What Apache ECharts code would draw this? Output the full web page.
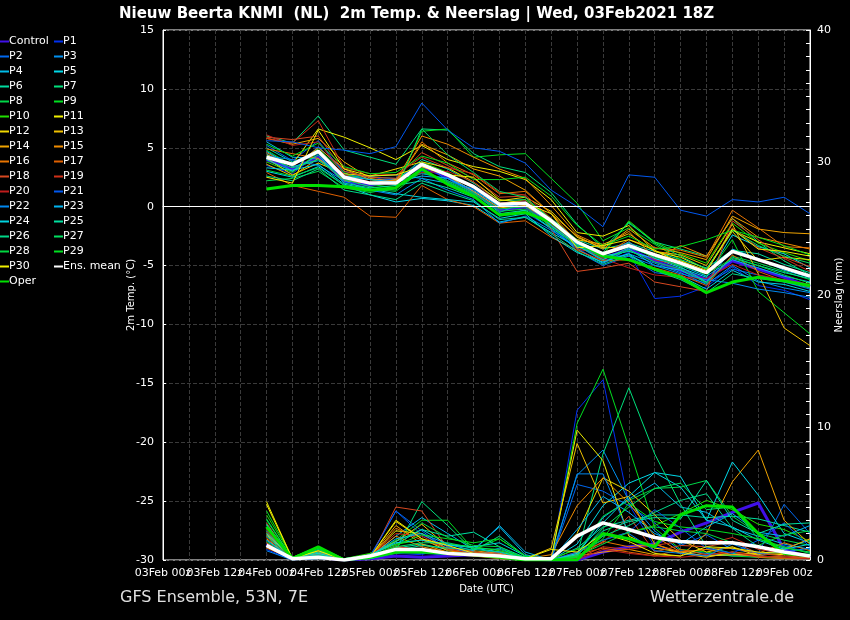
<!DOCTYPE html>
<html>
<head>
<meta charset="utf-8">
<script src="https://cdn.jsdelivr.net/npm/echarts@6/dist/echarts.min.js"></script>
<style>
  html, body { margin: 0; padding: 0; background: #000; }
  #chart { width: 850px; height: 620px; }
</style>
</head>
<body>
<div id="chart"></div>
<script>
const times = ["03Feb 00z", "03Feb 06z", "03Feb 12z", "03Feb 18z", "04Feb 00z", "04Feb 06z", "04Feb 12z", "04Feb 18z",
  "05Feb 00z", "05Feb 06z", "05Feb 12z", "05Feb 18z", "06Feb 00z", "06Feb 06z", "06Feb 12z", "06Feb 18z",
  "07Feb 00z", "07Feb 06z", "07Feb 12z", "07Feb 18z", "08Feb 00z", "08Feb 06z", "08Feb 12z", "08Feb 18z",
  "09Feb 00z", "09Feb 06z"];

// members in legend order; values start at 04Feb 00z
const memberNames = ["Control", "P1", "P2", "P3", "P4", "P5", "P6", "P7", "P8", "P9", "P10",
  "P11", "P12", "P13", "P14", "P15", "P16", "P17", "P18", "P19", "P20",
  "P21", "P22", "P23", "P24", "P25", "P26", "P27", "P28", "P29", "P30"];

const tempMembers = [
  [4.0,3.2,4.2,2.2,1.8,2.3,3.4,2.5,1.2,-0.3,0.0,-1.5,-3.2,-4.4,-3.6,-4.6,-5.4,-6.2,-4.6,-5.3,-6.0,-6.8],
  [3.5,2.8,4.5,2.0,2.6,2.0,3.0,2.1,1.0,-0.8,-0.5,-1.8,-3.5,-4.8,-3.9,-7.8,-7.6,-6.8,-5.1,-6.7,-7.1,-7.9],
  [5.2,3.9,5.6,2.8,2.3,2.3,3.8,2.2,1.5,0.0,0.2,-1.5,-3.8,-5.0,-4.2,-5.6,-5.9,-6.5,-5.3,-5.8,-6.4,-7.0],
  [4.5,3.0,5.1,3.0,2.5,2.4,2.8,2.4,1.2,-0.5,0.4,-1.6,-3.3,-4.6,-4.0,-4.8,-5.6,-6.6,-5.0,-6.3,-6.9,-7.3],
  [5.5,4.2,4.1,2.6,2.6,2.7,2.4,2.0,1.0,-0.8,-0.3,-1.9,-3.6,-4.8,-3.6,-5.0,-5.4,-6.4,-3.6,-4.4,-5.4,-6.0],
  [3.0,2.5,3.4,1.8,1.0,0.4,0.7,0.5,0.1,-1.3,-0.9,-2.2,-3.4,-4.2,-3.8,-4.4,-5.2,-6.0,-2.4,-3.4,-4.0,-5.2],
  [5.0,3.8,4.6,2.4,2.0,2.2,4.0,3.2,2.0,0.5,0.6,-1.0,-2.8,-3.6,-3.1,-3.8,-4.5,-5.2,-3.7,-4.0,-4.9,-5.6],
  [6.0,5.4,7.7,4.8,4.2,3.6,6.6,6.5,4.5,3.4,2.9,1.2,-1.5,-3.5,-1.4,-3.0,-3.6,-4.2,-1.0,-3.0,-4.6,-5.8],
  [2.2,2.4,3.0,1.6,1.2,1.6,2.9,2.2,1.2,-0.4,-0.2,-1.6,-3.1,-4.4,-3.7,-4.7,-5.3,-6.5,-4.2,-4.8,-5.5,-6.2],
  [4.8,3.5,4.9,2.9,1.9,1.6,6.4,6.6,4.2,4.4,4.5,2.4,0.3,-2.9,-1.8,-3.2,-4.5,-5.9,-2.8,-7.2,-9.0,-10.8],
  [3.8,2.9,4.6,2.7,2.3,1.9,3.8,2.9,1.6,0.2,0.6,-1.0,-3.1,-4.1,-1.2,-3.0,-4.0,-4.8,-1.4,-3.1,-3.9,-4.6],
  [4.4,3.6,6.6,5.9,5.0,4.0,5.2,4.0,3.4,3.0,2.3,0.6,-2.2,-2.5,-1.6,-3.8,-4.3,-5.3,-2.0,-3.0,-3.5,-4.0],
  [4.1,2.7,3.7,2.8,2.6,3.2,3.8,3.3,2.1,0.5,0.8,-0.4,-2.6,-3.5,-3.4,-4.0,-4.6,-5.4,-2.1,-4.6,-4.3,-4.5],
  [3.6,2.6,4.1,2.2,2.0,2.3,3.4,2.6,1.3,-0.1,0.1,-1.4,-2.8,-3.2,-2.3,-3.8,-4.1,-5.0,-1.5,-5.7,-10.3,-11.8],
  [5.8,5.3,5.8,3.8,2.4,2.1,5.3,4.4,3.2,2.6,1.4,-0.6,-2.5,-3.6,-1.9,-3.5,-3.9,-4.5,-0.8,-1.9,-2.2,-2.3],
  [4.6,3.4,5.0,3.2,2.3,2.2,6.0,5.3,4.2,3.2,2.4,0.1,-2.4,-3.4,-2.1,-4.4,-3.3,-4.2,-1.0,-2.6,-3.1,-3.6],
  [4.9,4.5,4.1,2.2,2.0,2.0,5.5,3.7,2.7,1.1,1.3,-0.6,-3.0,-4.1,-2.8,-3.5,-3.7,-4.3,-0.3,-1.8,-3.4,-3.5],
  [2.9,1.8,1.3,0.8,-0.8,-0.9,1.8,0.6,0.0,-1.4,-1.2,-2.6,-3.7,-4.6,-4.5,-5.2,-5.8,-6.7,-4.1,-5.5,-6.3,-6.8],
  [5.9,5.7,6.0,3.0,2.5,2.4,4.6,3.5,2.4,0.8,0.9,-1.9,-5.5,-5.2,-4.8,-6.4,-6.8,-7.2,-1.2,-2.8,-4.3,-5.1],
  [5.8,5.4,7.3,3.3,2.8,2.7,4.2,3.3,2.8,1.2,1.0,-1.0,-3.6,-4.0,-3.0,-4.5,-5.0,-5.5,-1.8,-3.5,-4.4,-5.5],
  [6.1,5.2,5.5,2.7,2.1,2.0,2.9,3.0,2.1,0.3,0.5,-1.5,-3.3,-4.4,-5.2,-5.8,-6.0,-6.1,-4.9,-5.8,-6.2,-6.6],
  [5.6,5.5,5.0,4.8,4.5,5.1,8.8,6.5,5.0,4.7,3.7,1.4,0.0,-1.7,2.7,2.5,-0.3,-0.8,0.6,0.4,0.8,-0.6],
  [4.3,4.0,3.5,2.2,1.4,1.0,2.4,1.4,0.6,-1.4,-0.8,-2.0,-3.4,-4.2,-4.2,-5.0,-5.7,-6.2,-6.5,-7.0,-7.3,-7.7],
  [4.7,3.4,3.9,2.6,2.3,2.1,2.6,2.4,1.4,0.0,0.3,-1.6,-3.2,-4.1,-3.0,-4.4,-5.0,-5.9,-4.5,-5.2,-5.9,-6.4],
  [3.3,3.1,3.6,1.9,1.5,1.1,0.8,0.6,0.4,-1.0,-0.6,-2.5,-3.9,-4.7,-4.0,-5.4,-5.9,-7.0,-5.4,-6.4,-6.6,-7.2],
  [4.0,3.0,4.4,2.0,1.6,1.8,2.2,1.6,0.8,-0.6,-0.3,-1.8,-3.3,-4.5,-3.5,-4.2,-5.1,-6.4,-4.3,-5.0,-5.6,-6.1],
  [2.6,2.2,3.2,1.4,1.0,0.6,2.0,1.2,0.5,-1.1,-0.9,-2.3,-3.8,-4.9,-4.1,-5.4,-6.2,-7.3,-5.7,-6.1,-6.4,-6.9],
  [4.2,3.3,4.0,2.3,1.7,1.4,6.6,4.4,2.9,1.3,0.8,-1.1,-2.9,-3.9,-1.3,-3.1,-4.2,-5.3,-2.0,-3.3,-4.2,-4.8],
  [3.1,2.6,3.3,1.8,1.5,1.3,3.1,2.1,1.1,-0.2,0.0,-1.7,-3.3,-4.1,-3.4,-4.3,-5.0,-5.7,-4.4,-5.0,-5.8,-6.5],
  [5.3,4.3,5.4,3.4,2.8,2.9,4.3,3.7,2.3,2.3,2.5,0.9,-1.6,-3.3,-2.5,-3.6,-3.4,-2.8,-2.0,-2.6,-3.3,-4.1],
  [2.5,2.0,6.5,3.2,2.6,2.7,3.4,2.7,2.5,0.6,0.3,-0.6,-3.5,-3.3,-2.8,-3.7,-4.8,-5.5,-1.9,-3.6,-3.8,-4.2]
];
const tempMean = [4.2,3.6,4.7,2.5,2.0,2.0,3.6,2.7,1.7,0.2,0.3,-1.2,-3.0,-4.0,-3.3,-4.1,-4.8,-5.6,-3.8,-4.5,-5.2,-5.9];
const tempOper = [1.5,1.8,1.8,1.7,1.4,1.6,3.2,1.9,0.9,-0.7,-0.5,-1.3,-3.0,-4.2,-4.5,-5.3,-6.0,-7.3,-6.4,-6.0,-6.3,-6.7];

const precipMembers = [
  [1.2,0.1,0.2,0.0,0.1,0.3,0.2,0.3,0.4,0.6,0.1,0.0,0.0,0.6,1.0,1.2,2.1,2.8,3.6,4.3,0.8,0.2],
  [0.8,0.0,0.3,0.0,0.2,0.5,0.4,1.0,0.6,0.3,0.0,0.0,11.3,13.6,4.2,1.0,0.6,0.3,0.4,0.2,1.1,0.5],
  [1.5,0.2,0.4,0.0,0.3,3.7,2.2,0.8,0.5,0.4,0.1,0.0,5.7,5.2,4.1,2.8,1.1,1.9,0.8,0.5,4.2,2.0],
  [1.0,0.0,0.1,0.0,0.1,0.6,0.5,0.4,0.3,0.9,0.1,0.2,6.4,8.3,4.5,2.2,0.7,0.5,0.3,0.4,0.9,1.5],
  [1.8,0.2,0.4,0.0,0.2,1.8,3.2,2.0,0.8,2.5,0.4,0.0,0.4,3.2,4.6,5.8,4.0,3.6,2.4,1.8,1.2,0.8],
  [2.2,0.1,0.6,0.1,0.4,1.2,2.3,1.2,0.9,0.6,0.2,0.0,1.2,4.1,5.8,6.6,6.3,3.0,7.4,4.9,2.0,1.3],
  [2.6,0.2,0.5,0.0,0.3,0.9,1.2,0.8,0.6,0.4,0.1,0.0,0.9,2.5,3.0,3.4,3.4,3.2,3.3,3.1,2.6,2.1],
  [2.0,0.0,0.8,0.0,0.2,0.8,4.4,2.6,0.7,1.8,0.3,0.1,0.3,8.0,13.0,8.0,4.2,1.0,0.5,0.3,0.2,0.1],
  [1.4,0.1,1.0,0.0,0.1,0.5,0.8,0.6,0.4,0.2,0.0,0.0,0.5,3.3,4.5,5.4,5.5,6.0,3.3,2.0,1.5,1.1],
  [3.0,0.1,0.9,0.0,0.3,1.5,3.0,3.0,0.8,1.6,0.3,0.0,10.3,14.4,8.5,2.4,0.8,0.6,0.3,0.2,0.1,0.2],
  [3.4,0.2,1.0,0.1,0.5,1.2,1.5,1.2,1.0,0.7,0.2,0.1,0.8,1.5,2.1,2.6,3.5,4.5,3.8,2.7,2.3,1.4],
  [4.4,0.1,0.5,0.0,0.3,2.2,2.0,0.8,0.5,0.2,0.0,0.1,9.8,7.5,1.8,0.9,0.6,0.3,0.4,0.5,0.4,0.3],
  [2.4,0.0,0.7,0.0,0.2,2.9,1.6,0.7,0.4,0.3,0.1,0.0,2.0,6.2,5.2,3.4,1.5,0.6,1.0,0.3,0.2,0.1],
  [1.9,0.2,0.6,0.0,0.4,1.4,2.7,1.0,0.6,0.4,0.1,0.9,8.8,4.3,4.8,1.2,0.5,0.2,0.6,0.4,0.8,1.6],
  [1.6,0.1,0.3,0.0,0.2,2.6,1.2,0.6,0.5,0.3,0.0,0.0,0.3,0.6,0.8,0.4,0.3,2.0,5.9,8.3,3.0,1.2],
  [2.1,0.1,0.4,0.0,0.3,1.8,1.0,0.6,0.7,0.5,0.1,0.4,4.1,6.2,4.3,1.8,0.6,0.8,0.4,0.3,0.2,0.2],
  [1.3,0.0,0.5,0.0,0.1,2.4,1.5,0.9,0.3,0.2,0.0,0.0,0.2,1.4,1.0,1.2,0.6,0.8,0.9,0.5,1.3,0.7],
  [0.9,0.1,0.3,0.0,0.2,1.0,0.8,0.4,0.3,0.1,0.0,0.0,0.4,0.9,0.6,0.3,0.8,0.4,0.6,0.2,0.1,0.1],
  [2.8,0.0,0.6,0.0,0.1,4.0,3.7,0.9,0.6,0.4,0.1,0.0,0.6,1.3,3.3,0.6,1.1,1.0,1.4,0.5,0.3,0.2],
  [1.7,0.1,0.4,0.0,0.3,2.0,1.8,0.8,0.5,0.3,0.1,0.0,0.1,1.0,0.8,1.1,1.4,1.2,1.7,0.8,0.5,0.3],
  [2.3,0.0,0.2,0.0,0.2,1.1,0.6,0.5,0.4,0.2,0.0,0.0,0.0,0.8,0.5,0.3,0.2,0.4,0.6,0.3,0.2,0.1],
  [1.1,0.1,0.3,0.0,0.2,3.7,1.9,1.0,0.5,0.3,0.1,0.0,0.6,1.5,2.1,3.8,2.4,0.9,0.5,1.5,2.8,1.0],
  [0.7,0.0,0.2,0.0,0.1,0.6,0.7,0.6,0.4,0.2,0.0,0.0,6.5,6.5,2.0,0.7,0.5,0.3,1.2,0.5,0.6,0.9],
  [1.5,0.1,0.4,0.0,0.3,1.6,2.0,1.2,0.7,2.6,0.6,0.0,2.3,4.8,3.6,2.0,1.2,2.5,3.5,2.1,1.8,2.6],
  [2.0,0.2,0.5,0.0,0.4,1.3,1.5,1.1,1.0,1.3,0.3,0.0,0.5,2.8,4.8,6.6,5.5,3.0,2.5,1.5,0.8,1.2],
  [2.7,0.1,0.6,0.1,0.3,1.4,2.3,1.8,2.1,1.0,0.2,0.0,0.4,2.2,2.9,3.2,3.1,6.0,3.0,2.0,2.7,2.8],
  [1.8,0.0,0.4,0.0,0.1,0.7,1.1,0.9,0.8,0.6,0.1,0.0,0.2,1.8,2.6,3.6,4.5,5.0,2.4,1.0,0.6,0.4],
  [3.1,0.1,0.9,0.0,0.2,1.0,1.3,1.3,0.9,0.8,0.2,0.0,0.3,2.4,4.0,5.4,5.8,3.8,4.0,1.6,0.9,0.6],
  [2.5,0.1,0.8,0.0,0.2,0.9,2.8,1.7,1.1,1.0,0.1,0.0,0.3,1.2,2.1,2.5,2.2,2.0,1.3,1.1,1.9,2.2],
  [3.7,0.2,1.0,0.0,0.3,1.1,1.9,1.6,1.3,1.6,0.3,0.0,0.2,1.6,4.3,2.9,2.5,2.3,2.0,1.6,1.0,0.5],
  [4.2,0.1,0.7,0.0,0.2,3.0,1.6,1.1,0.5,0.3,0.1,0.8,0.6,2.0,1.4,0.5,0.3,1.0,0.9,0.6,0.5,0.4]
];
const precipMean = [1.1,0.1,0.2,0.0,0.3,0.8,0.8,0.5,0.4,0.3,0.1,0.1,1.8,2.8,2.3,1.7,1.4,1.3,1.3,1.0,0.6,0.3];
const precipOper = [2.5,0.1,1.0,0.0,0.2,0.6,0.6,0.5,0.4,0.2,0.0,0.0,0.0,2.0,1.6,1.0,3.4,4.1,4.0,2.0,0.5,0.3];

// line colours per member (style only)
const memberColors = ["#4010e8", "#0030f0", "#0068f0", "#0090f0", "#00bce8", "#00d8e8", "#00dca0",
  "#00e07c", "#00d848", "#00e020", "#20e000", "#f0f000", "#f0d800", "#f0c000", "#f0a400",
  "#f08c00", "#e87400", "#e06000", "#d84820", "#d03018", "#c01c1c", "#0058f0", "#0088f0",
  "#00b4f0", "#00d4e0", "#00e0a0", "#00d888", "#00e060", "#00d840", "#00e020", "#f0f000"];

const lead = [null, null, null, null];

const chart = echarts.init(document.getElementById("chart"));
const series = [];

function addPair(name, temp, precip, color, width, z) {
  series.push({
    name: name, type: "line", xAxisIndex: 0, yAxisIndex: 0, data: lead.concat(temp),
    showSymbol: false, symbol: "none", z: z,
    lineStyle: { color: color, width: width }, itemStyle: { color: color }
  });
  series.push({
    name: name, type: "line", xAxisIndex: 0, yAxisIndex: 1, data: lead.concat(precip),
    showSymbol: false, symbol: "none", z: z,
    lineStyle: { color: color, width: width }, itemStyle: { color: color }
  });
}

for (let i = 0; i < memberNames.length; i++) {
  addPair(memberNames[i], tempMembers[i], precipMembers[i], memberColors[i], i == 0 ? 3 : 1, 2);
}
addPair("Ens. mean", tempMean, precipMean, "#ffffff", 3.5, 4);
addPair("Oper", tempOper, precipOper, "#00e000", 3, 3);

// 0 degree line
series[0].markLine = {
  silent: true, symbol: "none", label: { show: false },
  lineStyle: { color: "#ffffff", width: 1.2, type: "solid" },
  data: [{ yAxis: 0 }]
};

const leftCol = ["Control", "P2", "P4", "P6", "P8", "P10", "P12", "P14", "P16", "P18", "P20",
  "P22", "P24", "P26", "P28", "P30", "Oper"];
const rightCol = ["P1", "P3", "P5", "P7", "P9", "P11", "P13", "P15", "P17", "P19", "P21",
  "P23", "P25", "P27", "P29", "Ens. mean"];

const legendBase = {
  orient: "vertical", top: 36, itemGap: 4, itemWidth: 9, itemHeight: 2, icon: "rect",
  padding: 0, selectedMode: false,
  textStyle: { color: "#fff", fontSize: 11, fontFamily: "DejaVu Sans", lineHeight: 11, padding: [0, 0, 0, -5] }
};

const xLabelStyle = { color: "#fff", fontSize: 11, fontFamily: "DejaVu Sans", margin: 8 };

const option = {
  backgroundColor: "#000",
  animation: false,
  title: {
    text: "Nieuw Beerta KNMI  (NL)  2m Temp. & Neerslag | Wed, 03Feb2021 18Z",
    left: 114, top: 2,
    textStyle: { color: "#fff", fontSize: 15, fontWeight: "bold", fontFamily: "DejaVu Sans" }
  },
  legend: [
    Object.assign({}, legendBase, { left: 0, data: leftCol }),
    Object.assign({}, legendBase, { left: 54, data: rightCol })
  ],
  grid: {
    left: 163, right: 40, top: 30, bottom: 60, show: true, borderColor: "#fff", borderWidth: 1,
    containLabel: false, outerBoundsMode: "none"
  },
  xAxis: [
    {
      // 00z labels + grid
      type: "category", data: times, boundaryGap: false, position: "bottom",
      name: "Date (UTC)", nameLocation: "middle", nameGap: 24, nameMoveOverlap: false,
      nameTextStyle: { color: "#fff", fontSize: 10, fontFamily: "DejaVu Sans" },
      axisLine: { lineStyle: { color: "#fff" } },
      axisTick: { show: false },
      axisLabel: Object.assign({}, xLabelStyle, {
        interval: function (i) { return i % 4 === 0; }
      }),
      splitLine: { show: true, interval: 0, lineStyle: { color: "#3a3a3a", type: "dashed" } }
    },
    {
      // 12z labels
      type: "category", data: times, boundaryGap: false, position: "bottom", offset: 0,
      axisLine: { show: false }, axisTick: { show: false }, splitLine: { show: false },
      axisLabel: Object.assign({}, xLabelStyle, {
        interval: function (i) { return i % 4 === 2; }
      })
    }
  ],
  yAxis: [
    {
      type: "value", min: -30, max: 15, interval: 5,
      name: "2m Temp. (°C)", nameLocation: "middle", nameGap: 27, nameRotate: 90, nameMoveOverlap: false,
      nameTextStyle: { color: "#fff", fontSize: 10, fontFamily: "DejaVu Sans" },
      axisLine: { show: true, lineStyle: { color: "#fff" } },
      axisTick: { show: true, inside: true, length: 3, lineStyle: { color: "#fff" } },
      axisLabel: { color: "#fff", fontSize: 11, fontFamily: "DejaVu Sans", margin: 9 },
      splitLine: { show: true, lineStyle: { color: "#3a3a3a", type: "dashed" } }
    },
    {
      type: "value", min: 0, max: 40, interval: 10, position: "right",
      name: "Neerslag (mm)", nameLocation: "middle", nameGap: 24, nameRotate: 90, nameMoveOverlap: false,
      nameTextStyle: { color: "#fff", fontSize: 10, fontFamily: "DejaVu Sans" },
      axisLine: { show: true, lineStyle: { color: "#fff" } },
      axisTick: { show: true, inside: true, length: 4, lineStyle: { color: "#fff" } },
      minorTick: { show: true, splitNumber: 10, length: 4, lineStyle: { color: "#fff" } },
      axisLabel: { color: "#fff", fontSize: 11, fontFamily: "DejaVu Sans", margin: 7 },
      splitLine: { show: false }
    }
  ],
  graphic: [
    { type: "text", left: 120, top: 590, style: { text: "GFS Ensemble, 53N, 7E", fill: "#e0e0e0", fontSize: 16, fontFamily: "DejaVu Sans" } },
    { type: "text", left: 650, top: 590, style: { text: "Wetterzentrale.de", fill: "#e0e0e0", fontSize: 16, fontFamily: "DejaVu Sans" } }
  ],
  series: series
};

chart.setOption(option);
</script>
</body>
</html>
